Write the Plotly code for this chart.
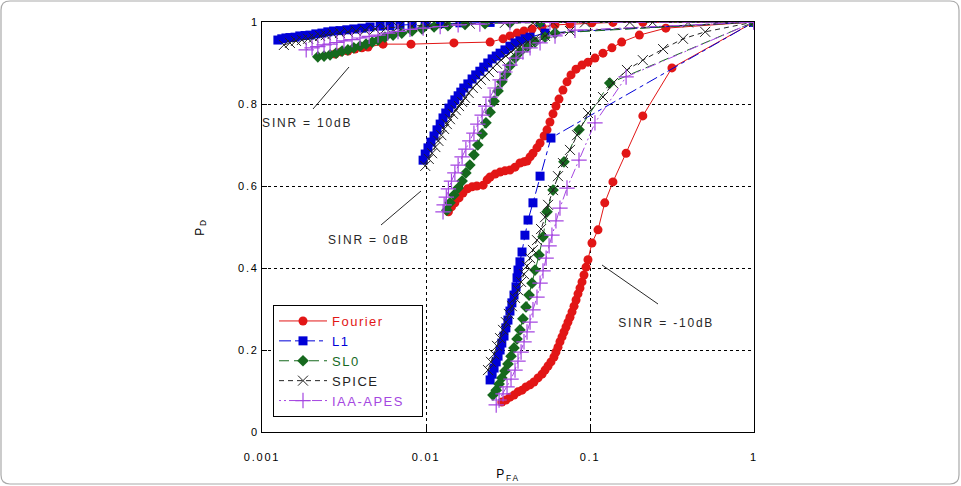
import plotly.graph_objects as go

# ---------------- data (P_FA, P_D) ----------------
# SINR = -10 dB
fourier_m10_x = [0.0290, 0.0307, 0.0325, 0.0344, 0.0364, 0.0385, 0.0407, 0.0431, 0.0455, 0.0482, 0.0510, 0.0532, 0.0555, 0.0578, 0.0603, 0.0620, 0.0638, 0.0656, 0.0675, 0.0694, 0.0714, 0.0734, 0.0755, 0.0777, 0.0799, 0.0822, 0.0845, 0.0869, 0.0894, 0.0919, 0.0946, 0.0972, 0.1028, 0.1119, 0.123, 0.138, 0.166, 0.210, 0.316, 1.0]
fourier_m10_y = [0.073, 0.078, 0.085, 0.090, 0.098, 0.102, 0.110, 0.115, 0.122, 0.132, 0.141, 0.151, 0.161, 0.171, 0.183, 0.195, 0.207, 0.220, 0.232, 0.244, 0.256, 0.268, 0.280, 0.293, 0.307, 0.322, 0.337, 0.351, 0.366, 0.383, 0.402, 0.420, 0.461, 0.493, 0.559, 0.610, 0.680, 0.771, 0.888, 1.0]
l1_m10_x = [0.0246, 0.0253, 0.0260, 0.0268, 0.0275, 0.0283, 0.0290, 0.0299, 0.0307, 0.0316, 0.0325, 0.0334, 0.0344, 0.0354, 0.0359, 0.0364, 0.0374, 0.0385, 0.0401, 0.0419, 0.0449, 0.0496, 0.0578, 1.0]
l1_m10_y = [0.127, 0.141, 0.156, 0.171, 0.185, 0.200, 0.217, 0.234, 0.254, 0.273, 0.295, 0.315, 0.334, 0.354, 0.376, 0.395, 0.415, 0.439, 0.480, 0.517, 0.559, 0.624, 0.717, 1.0]
sl0_m10_x = [0.0256, 0.0268, 0.0279, 0.0290, 0.0303, 0.0316, 0.0330, 0.0344, 0.0359, 0.0374, 0.0390, 0.0407, 0.0425, 0.0443, 0.0462, 0.0489, 0.0517, 0.0547, 0.0595, 0.0694, 0.0857, 0.132, 1.0]
sl0_m10_y = [0.090, 0.102, 0.117, 0.132, 0.149, 0.166, 0.185, 0.205, 0.227, 0.249, 0.276, 0.305, 0.334, 0.363, 0.395, 0.432, 0.476, 0.537, 0.590, 0.659, 0.737, 0.851, 1.0]
spice_m10_x = [0.0239, 0.0249, 0.0260, 0.0271, 0.0283, 0.0295, 0.0307, 0.0320, 0.0334, 0.0349, 0.0364, 0.0380, 0.0396, 0.0413, 0.0431, 0.0449, 0.0475, 0.0503, 0.0532, 0.0555, 0.0595, 0.0638, 0.0684, 0.0755, 0.0834, 0.0972, 0.120, 0.138, 0.168, 0.210, 0.279, 0.369, 0.504, 1.0]
spice_m10_y = [0.151, 0.171, 0.190, 0.210, 0.229, 0.249, 0.268, 0.288, 0.307, 0.327, 0.346, 0.366, 0.385, 0.405, 0.424, 0.444, 0.468, 0.495, 0.524, 0.554, 0.590, 0.624, 0.656, 0.688, 0.724, 0.778, 0.817, 0.851, 0.883, 0.907, 0.934, 0.959, 0.976, 1.0]
iaa_m10_x = [0.0268, 0.0279, 0.0295, 0.0312, 0.0330, 0.0349, 0.0364, 0.0380, 0.0396, 0.0413, 0.0431, 0.0449, 0.0475, 0.0496, 0.0517, 0.0540, 0.0563, 0.0586, 0.0620, 0.0656, 0.0724, 0.0857, 0.1072, 0.166, 1.0]
iaa_m10_y = [0.066, 0.078, 0.093, 0.110, 0.129, 0.151, 0.173, 0.195, 0.220, 0.244, 0.268, 0.298, 0.329, 0.363, 0.393, 0.424, 0.454, 0.480, 0.515, 0.546, 0.595, 0.663, 0.754, 0.866, 1.0]

# SINR = 0 dB
fourier_0_x = [0.0137, 0.0143, 0.0150, 0.0159, 0.0168, 0.0179, 0.0191, 0.0204, 0.0223, 0.0236, 0.0246, 0.0264, 0.0283, 0.0303, 0.0325, 0.0349, 0.0374, 0.0396, 0.0413, 0.0431, 0.0449, 0.0475, 0.0496, 0.0525, 0.0547, 0.0570, 0.0595, 0.0620, 0.0647, 0.0684, 0.0724, 0.0766, 0.0822, 0.0894, 0.0972, 0.1072, 0.120, 0.136, 0.156, 0.200, 0.290, 1.0]
fourier_0_y = [0.537, 0.549, 0.559, 0.571, 0.583, 0.593, 0.598, 0.600, 0.602, 0.615, 0.622, 0.629, 0.634, 0.637, 0.639, 0.646, 0.656, 0.659, 0.661, 0.671, 0.680, 0.693, 0.705, 0.722, 0.737, 0.756, 0.776, 0.795, 0.812, 0.834, 0.854, 0.871, 0.885, 0.895, 0.902, 0.912, 0.924, 0.937, 0.951, 0.968, 0.985, 1.0]
l1_0_x = [0.00960, 0.00989, 0.01028, 0.01072, 0.01119, 0.01167, 0.0122, 0.0127, 0.0132, 0.0138, 0.0144, 0.0150, 0.0157, 0.0163, 0.0170, 0.0180, 0.0191, 0.0201, 0.0213, 0.0225, 0.0238, 0.0253, 0.0268, 0.0283, 0.0303, 0.0325, 0.0349, 0.0374, 0.0401, 0.0431, 0.0532, 1.0]
l1_0_y = [0.663, 0.678, 0.693, 0.707, 0.722, 0.737, 0.751, 0.766, 0.778, 0.790, 0.800, 0.810, 0.820, 0.829, 0.839, 0.849, 0.861, 0.871, 0.880, 0.890, 0.900, 0.910, 0.917, 0.924, 0.932, 0.941, 0.949, 0.954, 0.959, 0.963, 0.973, 1.0]
sl0_0_x = [0.0134, 0.0140, 0.0148, 0.0157, 0.0166, 0.0175, 0.0185, 0.0196, 0.0207, 0.0220, 0.0232, 0.0246, 0.0260, 0.0275, 0.0290, 0.0307, 0.0325, 0.0349, 0.0374, 0.0413, 0.0462, 0.0532, 0.0612, 1.0]
sl0_0_y = [0.541, 0.559, 0.578, 0.595, 0.612, 0.632, 0.651, 0.676, 0.700, 0.727, 0.754, 0.780, 0.807, 0.832, 0.854, 0.873, 0.893, 0.912, 0.927, 0.939, 0.951, 0.963, 0.973, 1.0]
spice_0_x = [0.00989, 0.0104, 0.0109, 0.0114, 0.0119, 0.0124, 0.0129, 0.0134, 0.0140, 0.0146, 0.0152, 0.0159, 0.0166, 0.0173, 0.0182, 0.0193, 0.0204, 0.0216, 0.0229, 0.0242, 0.0256, 0.0271, 0.0287, 0.0307, 0.0330, 0.0354, 0.0385, 0.0419, 0.0462, 0.0532, 0.0755, 1.0]
spice_0_y = [0.649, 0.666, 0.680, 0.695, 0.710, 0.724, 0.739, 0.751, 0.763, 0.776, 0.785, 0.795, 0.805, 0.815, 0.827, 0.839, 0.849, 0.859, 0.868, 0.878, 0.888, 0.898, 0.907, 0.917, 0.927, 0.937, 0.944, 0.951, 0.959, 0.966, 0.978, 1.0]
iaa_0_x = [0.0127, 0.0129, 0.0133, 0.0137, 0.0143, 0.0150, 0.0157, 0.0166, 0.0175, 0.0185, 0.0196, 0.0207, 0.0220, 0.0232, 0.0246, 0.0264, 0.0283, 0.0303, 0.0325, 0.0354, 0.0390, 0.0431, 0.0496, 0.0612, 0.0810, 1.0]
iaa_0_y = [0.537, 0.554, 0.573, 0.593, 0.612, 0.632, 0.651, 0.671, 0.690, 0.710, 0.729, 0.751, 0.773, 0.795, 0.817, 0.839, 0.859, 0.878, 0.895, 0.912, 0.927, 0.937, 0.949, 0.966, 0.980, 1.0]

# SINR = 10 dB
fourier_10_x = [0.00279, 0.00303, 0.00334, 0.00369, 0.00407, 0.00443, 0.00547, 0.00810, 0.0148, 0.0246, 0.0295, 0.0325, 0.0359, 0.0396, 0.0443, 0.0510, 0.0612, 0.0755, 0.1028, 0.138, 0.210, 1.0]
fourier_10_y = [0.922, 0.927, 0.929, 0.934, 0.937, 0.939, 0.946, 0.946, 0.949, 0.951, 0.959, 0.966, 0.973, 0.978, 0.983, 0.988, 0.993, 0.995, 0.998, 0.999, 0.999, 1.0]
l1_10_x = [0.00125, 0.00132, 0.00140, 0.00148, 0.00159, 0.00170, 0.00183, 0.00196, 0.00213, 0.00232, 0.00252, 0.00273, 0.00299, 0.00329, 0.00363, 0.00407, 0.00456, 0.00525, 0.00603, 0.00694, 0.00822, 0.00989, 0.0122, 0.0161, 0.0246, 0.0496, 1.0]
l1_10_y = [0.956, 0.959, 0.961, 0.962, 0.963, 0.966, 0.967, 0.968, 0.971, 0.973, 0.976, 0.978, 0.979, 0.981, 0.983, 0.985, 0.988, 0.990, 0.991, 0.993, 0.994, 0.995, 0.996, 0.998, 0.999, 1.0, 1.0]
sl0_10_x = [0.00219, 0.00239, 0.00260, 0.00283, 0.00308, 0.00334, 0.00363, 0.00396, 0.00431, 0.00470, 0.00510, 0.00562, 0.00630, 0.00712, 0.00822, 0.00946, 0.0112, 0.0136, 0.0173, 0.0229, 0.0325, 0.0496, 1.0]
sl0_10_y = [0.915, 0.917, 0.920, 0.924, 0.929, 0.932, 0.937, 0.941, 0.946, 0.951, 0.956, 0.963, 0.968, 0.973, 0.978, 0.983, 0.988, 0.991, 0.994, 0.996, 0.998, 0.999, 1.0]
spice_10_x = [0.00136, 0.00148, 0.00161, 0.00175, 0.00191, 0.00207, 0.00226, 0.00245, 0.00270, 0.00299, 0.00334, 0.00374, 0.00425, 0.00489, 0.00569, 0.00675, 0.00822, 0.01028, 0.0132, 0.0185, 0.0303, 0.0449, 0.0595, 0.0932, 0.175, 0.241, 0.396, 1.0]
spice_10_y = [0.944, 0.949, 0.954, 0.956, 0.959, 0.962, 0.966, 0.968, 0.971, 0.973, 0.976, 0.978, 0.980, 0.983, 0.985, 0.988, 0.990, 0.993, 0.995, 0.996, 0.998, 0.998, 0.999, 0.999, 0.999, 0.999, 0.999, 1.0]
iaa_10_x = [0.00186, 0.00202, 0.00219, 0.00239, 0.00260, 0.00286, 0.00316, 0.00354, 0.00396, 0.00450, 0.00510, 0.00585, 0.00675, 0.00799, 0.00960, 0.0122, 0.0157, 0.0213, 0.0325, 0.0570, 1.0]
iaa_10_y = [0.932, 0.937, 0.940, 0.944, 0.946, 0.950, 0.954, 0.957, 0.961, 0.965, 0.968, 0.973, 0.977, 0.982, 0.985, 0.989, 0.993, 0.995, 0.998, 0.999, 1.0]

x_tick_vals = [0.001, 0.01, 0.1, 1]
x_tick_text = ["0.001", "0.01", "0.1", "1"]
sinr_labels = ["SINR = 10dB", "SINR = 0dB", "SINR = -10dB"]

# ---------------- styles ----------------
RED = "rgb(226,22,22)"
BLUE = "rgb(0,0,215)"
GREEN = "rgb(22,105,30)"
BLACK = "rgb(35,35,35)"
PURPLE = "rgb(165,70,225)"

methods = [
    ("Fourier", RED, "solid", dict(symbol="circle", size=9, color=RED),
     [(fourier_10_x, fourier_10_y), (fourier_0_x, fourier_0_y), (fourier_m10_x, fourier_m10_y)]),
    ("L1", BLUE, "12px,4px,4px,4px", dict(symbol="square", size=9, color=BLUE),
     [(l1_10_x, l1_10_y), (l1_0_x, l1_0_y), (l1_m10_x, l1_m10_y)]),
    ("SL0", GREEN, "10px,5px", dict(symbol="diamond", size=9, color=GREEN),
     [(sl0_10_x, sl0_10_y), (sl0_0_x, sl0_0_y), (sl0_m10_x, sl0_m10_y)]),
    ("SPICE", BLACK, "5px,4px", dict(symbol="x-thin", size=10, color=BLACK, line=dict(color=BLACK, width=1)),
     [(spice_10_x, spice_10_y), (spice_0_x, spice_0_y), (spice_m10_x, spice_m10_y)]),
    ("IAA-APES", PURPLE, "2px,3px,2px,3px,10px,3px", dict(symbol="cross-thin", size=11, color=PURPLE, line=dict(color=PURPLE, width=1.2)),
     [(iaa_10_x, iaa_10_y), (iaa_0_x, iaa_0_y), (iaa_m10_x, iaa_m10_y)]),
]

FONT = "Liberation Sans, Arial, sans-serif"
fig = go.Figure()
for name, col, dash, marker, curves in methods:
    for i, (xs, ys) in enumerate(curves):
        fig.add_trace(go.Scatter(
            x=xs, y=ys, mode="lines+markers",
            name=f"<span style='color:{col}'>{name}</span>",
            legendgroup=name, showlegend=(i == 0),
            line=dict(color=col, width=1, dash=dash),
            marker=marker,
        ))

# plot area in pixels
L, R, T, B = 262, 754, 22, 432
W, H = 961, 486
def px(x):
    return (x - L) / (R - L)
def py(y):
    return (B - y) / (B - T)

shapes = []
# leader lines for annotations (paper coords)
for (x0, y0, x1, y1) in [(349, 67, 313, 109), (421, 191, 381, 225), (602, 265, 658, 304)]:
    shapes.append(dict(type="line", xref="paper", yref="paper",
                       x0=px(x0), y0=py(y0), x1=px(x1), y1=py(y1),
                       line=dict(color="rgb(40,40,40)", width=1)))
# rounded outer frame
r = 9
x0, y0, x1, y1 = 1, 1, W - 2, H - 2
path = (f"M {px(x0 + r)} {py(y0)} L {px(x1 - r)} {py(y0)} Q {px(x1)} {py(y0)} {px(x1)} {py(y0 + r)} "
        f"L {px(x1)} {py(y1 - r)} Q {px(x1)} {py(y1)} {px(x1 - r)} {py(y1)} "
        f"L {px(x0 + r)} {py(y1)} Q {px(x0)} {py(y1)} {px(x0)} {py(y1 - r)} "
        f"L {px(x0)} {py(y0 + r)} Q {px(x0)} {py(y0)} {px(x0 + r)} {py(y0)} Z")
shapes.append(dict(type="path", xref="paper", yref="paper", path=path,
                   line=dict(color="rgb(170,170,170)", width=1.2), layer="below"))

annotations = []
for txt, (cx, cy) in zip(sinr_labels, [(307, 123), (369, 240), (666, 323)]):
    annotations.append(dict(text=txt, xref="paper", yref="paper", x=px(cx), y=py(cy),
                            showarrow=False, xanchor="center", yanchor="middle",
                            font=dict(size=12, color="rgb(40,40,40)", family=FONT)))

axis_common = dict(showline=True, linecolor="black", linewidth=1, mirror=True,
                   showgrid=True, gridcolor="black", gridwidth=1, griddash="dot",
                   ticks="inside", ticklen=5, tickcolor="black", zeroline=False,
                   automargin=False,
                   tickfont=dict(size=11, color="black", family=FONT))

fig.update_layout(
    width=W, height=H,
    margin=dict(l=L, r=W - R, t=T, b=H - B, autoexpand=False),
    paper_bgcolor="white", plot_bgcolor="white",
    font=dict(family=FONT, size=11, color="black"),
    showlegend=True,
    legend=dict(x=px(273), y=py(305), xanchor="left", yanchor="top",
                bgcolor="white", bordercolor="black", borderwidth=1,
                font=dict(size=13, family=FONT), tracegroupgap=0,
                itemwidth=48),
    xaxis=dict(type="log", range=[-3, 0], tickvals=x_tick_vals, ticktext=x_tick_text,
               ticklabelstandoff=15,
               title=dict(text="P<sub>FA</sub>", font=dict(size=12, family=FONT), standoff=7),
               **axis_common),
    yaxis=dict(range=[0, 1], dtick=0.2, tick0=0,
               title=dict(text="P<sub>D</sub>", font=dict(size=12, family=FONT), standoff=36),
               **axis_common),
    shapes=shapes, annotations=annotations,
)

post = """
var gd = document.getElementById('{plot_id}');
function spaceText(){
  gd.querySelectorAll('.annotation-text, .xtick text, .ytick text, .g-xtitle text, .g-ytitle text').forEach(function(t){
    t.style.letterSpacing = '1.8px';
  });
  gd.querySelectorAll('.legendtext').forEach(function(t){
    t.style.letterSpacing = '1.5px';
  });
  var leg = gd.querySelector('.legend');
  if (leg) {
    var newW = 149;
    leg.querySelectorAll('rect.bg').forEach(function(r){ r.setAttribute('width', newW); });
    gd.querySelectorAll('clipPath').forEach(function(cp){
      if (cp.id && cp.id.indexOf('legend') === 0) {
        cp.querySelectorAll('rect').forEach(function(r){ r.setAttribute('width', newW); });
      }
    });
  }
}
spaceText();
"""
fig.write_html("out.html", post_script=post)
